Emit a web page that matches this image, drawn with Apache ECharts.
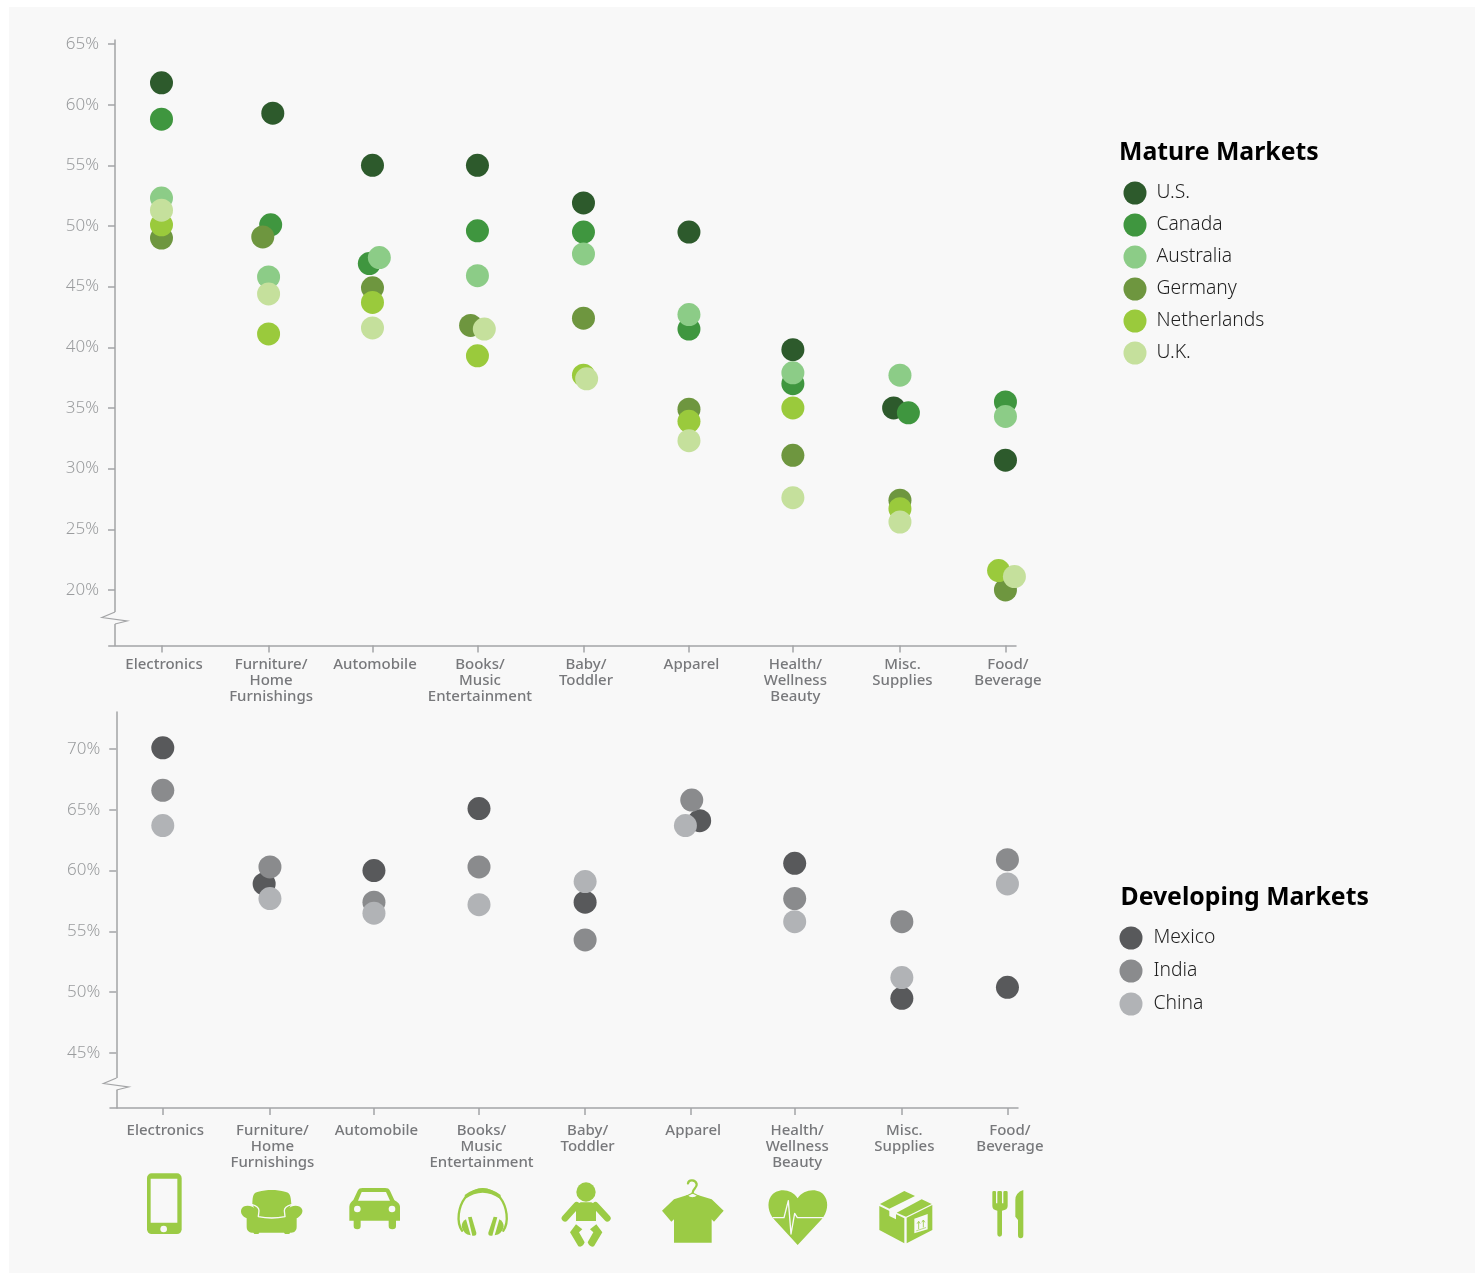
<!DOCTYPE html>
<html>
<head>
<meta charset="utf-8">
<title>Mature and developing markets</title>
<script src="https://cdn.jsdelivr.net/npm/echarts@6/dist/echarts.min.js"></script>
<style>
  html, body { margin: 0; padding: 0; background: #fff; }
  #chart { width: 1475px; height: 1274px; }
</style>
</head>
<body>
<div id="chart"></div>
<script>
// -----------------------------------------
// DATA
// -----------------------------------------
const categories = ['Electronics', 'Furniture/\nHome\nFurnishings', 'Automobile', 'Books/\nMusic\nEntertainment',
  'Baby/\nToddler', 'Apparel', 'Health/\nWellness\nBeauty', 'Misc.\nSupplies', 'Food/\nBeverage'];
const catTicks = [0, 1.015, 2, 2.995, 4, 5, 5.985, 7, 8];

const matureTicks = [20, 25, 30, 35, 40, 45, 50, 55, 60, 65];
const developingTicks = [45, 50, 55, 60, 65, 70];

const usValues = [61.8, 59.3, 55.0, 55.0, 51.9, 49.5, 39.8, 35.0, 30.7];
const canadaValues = [58.8, 50.1, 46.9, 49.6, 49.5, 41.5, 37.0, 34.6, 35.5];
const australiaValues = [52.3, 45.8, 47.4, 45.9, 47.7, 42.7, 37.9, 37.7, 34.3];
const germanyValues = [49.0, 49.1, 44.9, 41.8, 42.4, 34.9, 31.1, 27.4, 20.0];
const netherlandsValues = [50.1, 41.1, 43.7, 39.3, 37.7, 33.9, 35.0, 26.7, 21.6];
const ukValues = [51.3, 44.4, 41.6, 41.5, 37.4, 32.3, 27.6, 25.6, 21.1];

const mexicoValues = [70.1, 58.9, 60.0, 65.1, 57.4, 64.1, 60.6, 49.5, 50.4];
const indiaValues = [66.6, 60.3, 57.4, 60.3, 54.3, 65.8, 57.7, 55.8, 60.9];
const chinaValues = [63.7, 57.7, 56.5, 57.2, 59.1, 63.7, 55.8, 51.2, 58.9];

// sideways nudges where dots would sit on top of each other, per category index
const usDodge = { 1: 0.04, 7: -0.06 };
const canadaDodge = { 1: 0.02, 2: -0.03, 7: 0.08 };
const australiaDodge = { 2: 0.065 };
const germanyDodge = { 1: -0.055, 3: -0.065 };
const netherlandsDodge = { 8: -0.065 };
const ukDodge = { 3: 0.065, 4: 0.03, 8: 0.085 };
const mexicoDodge = { 1: -0.055, 5: 0.085 };
const indiaDodge = { 5: 0.01 };
const chinaDodge = { 5: -0.05 };

const matureNames = ['U.S.', 'Canada', 'Australia', 'Germany', 'Netherlands', 'U.K.'];
const developingNames = ['Mexico', 'India', 'China'];

// -----------------------------------------
// STYLE
// -----------------------------------------
const FONT = '"Noto Sans", "Open Sans", sans-serif';
const PANEL = '#f8f8f8';
const AXIS = '#a3a4a6';
const GREEN = '#9bcb45';

// -----------------------------------------
// CHART PARTS
// -----------------------------------------
function dots(name, color, values, dodge, gridIndex) {
  return {
    name,
    type: 'scatter',
    xAxisIndex: gridIndex,
    yAxisIndex: gridIndex,
    symbol: 'circle',
    symbolSize: 23,
    silent: true,
    itemStyle: { color, opacity: 1 },
    data: values.map((v, i) => [catTicks[i] + (dodge[i] || 0), v])
  };
}

function xAxis(gridIndex, labelMargin) {
  return {
    type: 'value',
    gridIndex,
    min: -0.5,
    max: 8.1,
    splitLine: { show: false },
    axisLine: { show: true, onZero: false, lineStyle: { color: AXIS, width: 1.5 } },
    axisTick: { show: true, length: 7, customValues: catTicks, lineStyle: { color: AXIS, width: 1.5 } },
    axisLabel: {
      customValues: catTicks,
      margin: labelMargin,
      color: '#77787b',
      fontFamily: FONT,
      fontSize: 15,
      fontWeight: 500,
      lineHeight: 16,
      padding: [0, 0, 0, 5],
      hideOverlap: false,
      formatter: v => categories[catTicks.indexOf(v)]
    }
  };
}

function yAxis(gridIndex, min, max, ticks) {
  return {
    type: 'value',
    gridIndex,
    min,
    max,
    offset: -6.25,
    splitLine: { show: false },
    axisLine: { show: true, onZero: false, lineStyle: { color: AXIS, width: 1.5 } },
    axisTick: { show: true, length: 7, customValues: ticks, lineStyle: { color: AXIS, width: 1.5 } },
    axisLabel: {
      customValues: ticks,
      margin: 16,
      color: '#9a9c9e',
      fontFamily: FONT,
      fontSize: 17,
      fontWeight: 300,
      padding: [0, 0, 2, 0],
      formatter: '{value}%'
    }
  };
}

function legend(names, left, top, gap, textPadding) {
  return {
    data: names,
    orient: 'vertical',
    left,
    top,
    padding: 0,
    itemWidth: 23,
    itemHeight: 23,
    itemGap: gap,
    icon: 'circle',
    selectedMode: false,
    textStyle: {
      color: '#1f1f1f',
      fontFamily: FONT,
      fontSize: 19.3,
      fontWeight: 300,
      padding: textPadding
    }
  };
}

function marketTitle(text, left, top) {
  return {
    text,
    left,
    top,
    padding: 0,
    textStyle: { color: '#000', fontFamily: FONT, fontSize: 24.8, fontWeight: 'bold' }
  };
}

// zigzag on the value axis: cover the line there, then draw the squiggle
function axisBreak(x, y) {
  return [
    { type: 'rect', z: 5, shape: { x: x - 2, y, width: 4, height: 12 }, style: { fill: PANEL } },
    {
      type: 'polyline',
      z: 6,
      shape: { points: [[x, y], [x - 13, y + 5.5], [x + 12, y + 9], [x, y + 12]] },
      style: { fill: null, stroke: AXIS, lineWidth: 1.2 }
    }
  ];
}

// -----------------------------------------
// ICONS (drawn in 3x crop coordinates, hence the 1/3 scale)
// -----------------------------------------
let iconShapeCount = 0;

// the graphic component has no plain "path" type, so each outline gets its own shape class
function pathShape(d) {
  const name = 'iconPath' + (iconShapeCount++);
  echarts.graphic.registerShape(name, echarts.graphic.extendPath(d, {}));
  return name;
}

function fill(d, color = GREEN) {
  return { type: pathShape(d), style: { fill: color } };
}

function stroke(d, width, color = PANEL) {
  return { type: pathShape(d), style: { fill: null, stroke: color, lineWidth: width, lineCap: 'round', lineJoin: 'round' } };
}

function iconGroup(x, y, children) {
  return { type: 'group', x, y, scaleX: 1 / 3, scaleY: 1 / 3, z: 3, children };
}

const iconsLeft = iconGroup(120, 1160, [
  // phone
  { type: 'rect', shape: { x: 81, y: 40, width: 104, height: 182, r: 14 }, style: { fill: GREEN } },
  { type: 'rect', shape: { x: 92, y: 56, width: 80, height: 132 }, style: { fill: PANEL } },
  { type: 'circle', shape: { cx: 131, cy: 207, r: 10 }, style: { fill: PANEL } },
  // armchair
  fill('M397,132 C398,105 400,98 415,95 C440,88 470,88 495,95 C510,98 512,105 514,132 L496,172 L414,172 Z'),
  fill('M380,175 C368,170 360,160 364,148 C368,136 385,135 397,140 C408,145 414,155 414,170 L496,170 C496,155 502,145 513,140 C525,135 543,136 547,150 C549,160 540,170 530,175 L530,200 C530,215 520,218 510,218 L508,222 L495,222 L492,218 L418,218 L415,222 L403,222 L400,218 C388,218 380,212 380,200 Z'),
  stroke('M397,134 C408,137 417,144 417,152 L415,170 C440,175 470,175 495,170 L493,152 C493,144 503,137 514,134', 4),
  // car
  fill('M688,182 L688,140 C688,130 695,125 700,120 L713,92 C716,86 720,84 728,84 L795,84 C803,84 807,86 810,92 L823,120 C830,125 840,130 840,140 L840,182 L828,182 L828,198 Q828,208 817,208 Q806,208 806,198 L806,182 L722,182 L722,198 Q722,208 712,208 Q701,208 701,198 L701,182 Z'),
  fill('M725,96 L798,96 L810,122 L714,122 Z', PANEL),
  { type: 'circle', shape: { cx: 712, cy: 147, r: 10 }, style: { fill: PANEL } },
  { type: 'circle', shape: { cx: 816, cy: 147, r: 10 }, style: { fill: PANEL } },
  // headphones
  stroke('M1026,212 C1008,185 1015,140 1036,112 C1070,80 1106,80 1140,112 C1161,140 1168,185 1150,212', 7, GREEN),
  fill('M1034,105 C1070,78 1106,78 1142,105 L1140,116 C1106,92 1070,92 1036,116 Z'),
  fill('M1044,172 L1055,170 L1069,218 Q1070,227 1062,227 L1057,227 Z'),
  fill('M1038,178 L1052,226 Q1030,222 1025,200 Q1025,185 1038,178 Z'),
  fill('M1132,172 L1121,170 L1105,218 Q1104,227 1112,227 L1117,227 Z'),
  fill('M1138,178 L1124,226 Q1146,222 1151,200 Q1151,185 1138,178 Z')
]);

const iconsBaby = iconGroup(550, 1170, [
  { type: 'circle', shape: { cx: 108, cy: 66, r: 29 }, style: { fill: GREEN } },
  fill('M78,104 L92,97 L124,97 L138,104 L138,153 L78,153 Z'),
  stroke('M80,106 L45,145', 20, GREEN),
  stroke('M136,106 L172,145', 20, GREEN),
  fill('M60,187 L78,163 L97,178 L87,187 L104,217 Q97,234 85,229 Z'),
  fill('M157,187 L139,163 L120,178 L130,187 L113,217 Q120,234 132,229 Z'),
  // shirt and hanger
  fill('M336,122 L372,88 L412,75 C422,82 434,82 443,75 L485,88 L521,122 L492,155 L485,148 L485,218 L372,218 L372,148 L364,155 Z'),
  stroke('M414,40 C416,28 436,28 440,42 C442,54 428,56 428,68', 7, GREEN),
  stroke('M410,78 L428,69 L446,78', 4, GREEN),
  fill('M416,79 Q427,74 438,79 Q427,84 416,79 Z', PANEL)
]);

const iconsHeart = iconGroup(600, 1160, [
  fill('M593,255 L522,178 C505,158 500,130 512,110 C530,82 575,85 593,115 C611,85 660,82 675,110 C687,130 682,158 665,178 Z'),
  stroke('M520,173 L552,173 L565,122 L573,222 L584,160 L592,173 L668,173', 4)
]);

const iconsBox = iconGroup(860, 1180, [
  fill('M60,72 L133,33 L165,48 L88,86 Z'),
  fill('M110,98 L185,58 L215,72 L138,110 Z'),
  fill('M58,78 L133,115 L133,190 L58,150 Z'),
  fill('M140,113 L217,75 L217,150 L140,190 Z'),
  fill('M88,90 L108,100 L108,118 L88,108 Z', PANEL),
  fill('M163,116 L203,102 L203,148 L163,160 Z', PANEL),
  stroke('M176,146 L176,126 M172,130 L176,124 L180,130 M190,141 L190,122 M186,126 L190,120 L194,126', 2.5, GREEN),
  stroke('M170,152 L197,143', 2, GREEN),
  // fork
  fill('M397,37 Q397,33 401,33 L405,33 Q408,33 408,37 L408,70 L412,70 L412,37 Q412,33 416,33 L422,33 Q426,33 426,37 L426,70 L430,70 L430,37 Q430,33 434,33 L439,33 Q443,33 443,37 L443,78 Q443,90 426,92 L426,163 Q426,170 419,170 Q412,170 412,163 L412,92 Q397,90 397,78 Z'),
  // knife
  fill('M490,30 Q466,38 466,60 L466,110 L474,120 L474,165 Q474,175 482,175 Q490,175 490,165 Z')
]);

// -----------------------------------------
// OPTION
// -----------------------------------------
const option = {
  animation: false,
  backgroundColor: '#ffffff',
  textStyle: { fontFamily: FONT },
  title: [
    marketTitle('Mature Markets', 1119, 140),
    marketTitle('Developing Markets', 1120.5, 885)
  ],
  legend: [
    legend(matureNames, 1123.5, 181.5, 9, [0, 0, 3, 5]),
    legend(developingNames, 1119.5, 926.5, 10, [0, 0, 2, 6])
  ],
  grid: [
    { left: 108.75, top: 40, width: 907.25, height: 605.5 },
    { left: 110, top: 712, width: 908, height: 396 }
  ],
  xAxis: [xAxis(0, 11), xAxis(1, 15)],
  yAxis: [
    yAxis(0, 15.42, 65.33, matureTicks),
    yAxis(1, 40.48, 73.04, developingTicks)
  ],
  series: [
    dots('U.S.', '#2d5a2c', usValues, usDodge, 0),
    dots('Canada', '#3f963f', canadaValues, canadaDodge, 0),
    dots('Australia', '#8ccc87', australiaValues, australiaDodge, 0),
    dots('Germany', '#6e963f', germanyValues, germanyDodge, 0),
    dots('Netherlands', '#9aca3c', netherlandsValues, netherlandsDodge, 0),
    dots('U.K.', '#c5e09c', ukValues, ukDodge, 0),
    dots('Mexico', '#58595b', mexicoValues, mexicoDodge, 1),
    dots('India', '#8a8b8d', indiaValues, indiaDodge, 1),
    dots('China', '#b1b3b6', chinaValues, chinaDodge, 1)
  ],
  graphic: [
    { type: 'rect', z: -10, shape: { x: 9, y: 7, width: 1466, height: 1266 }, style: { fill: PANEL } },
    ...axisBreak(115, 612),
    ...axisBreak(116.5, 1078),
    iconsLeft,
    iconsBaby,
    iconsHeart,
    iconsBox
  ]
};

// -----------------------------------------
// BOOTSTRAP
// -----------------------------------------
const chart = echarts.init(document.getElementById('chart'), null, { renderer: 'canvas' });
chart.setOption(option);
</script>
</body>
</html>
